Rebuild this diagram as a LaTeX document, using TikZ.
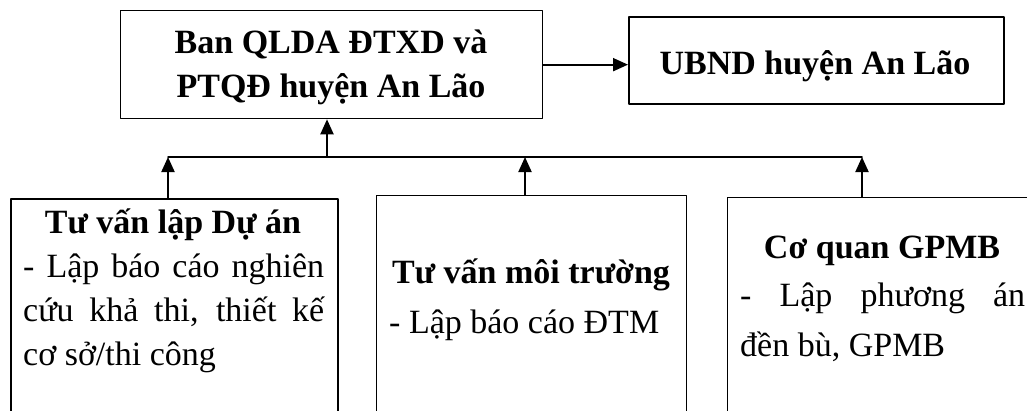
\documentclass[tikz,border=0pt]{standalone}
\usepackage{fontspec}
\setmainfont{Liberation Serif}
\usepackage{tikz}
\usetikzlibrary{arrows.meta}

\begin{document}
\begin{tikzpicture}[line cap=round,line join=round,>={Triangle[length=15pt,width=13pt]},x=1.0pt,y=-1.0pt,
        box/.style={draw,line width=1.3pt,inner sep=0pt,anchor=north west},
        boxthick/.style={box,line width=2pt},
        head/.style={font=\fontsize{34}{44}\selectfont\bfseries,inner sep=0pt,anchor=base},
        body/.style={font=\fontsize{34}{44}\selectfont,inner sep=0pt,anchor=base west,align=justify},
        link/.style={->,line width=2pt,line cap=butt}]
        \useasboundingbox (0,0) rectangle (1027,410);
        \clip (0,0) rectangle (1027,410);
        % khung tren
        \node[box,minimum width=422pt,minimum height=108pt] (ban) at (120,10) {};
        \node[boxthick,minimum width=375pt,minimum height=87pt] (ubnd) at (628,16) {};
        \node[head] (ban1) at (331,53) {Ban QLDA ĐTXD và};
        \node[head] (ban2) at (331,97) {PTQĐ huyện An Lão};
        \node[head] (ubndtext) at (815,74) {UBND huyện An Lão};
        % khung duoi
        \node[boxthick,minimum width=327pt,minimum height=300pt] (tuvan) at (10,198) {};
        \node[box,minimum width=310pt,minimum height=300pt] (moitruong) at (376,195) {};
        \node[box,minimum width=311pt,minimum height=300pt] (gpmb) at (727,197) {};
        \node[head] (tuvan1) at (173,233) {Tư vấn lập Dự án};
        \node[body,text width=301pt] (tuvan2) at (23,277) {- Lập báo cáo nghiên\linebreak cứu khả thi, thiết kế\linebreak cơ sở/thi công};
        \node[head] (moitruong1) at (531,283) {Tư vấn môi trường};
        \node[body] (moitruong2) at (389,333) {- Lập báo cáo ĐTM};
        \node[head] (gpmb1) at (882,258) {Cơ quan GPMB};
        \node[body,text width=285pt,font=\fontsize{34}{50}\selectfont] (gpmb2) at (740,306) {- Lập phương án\linebreak đền bù, GPMB};
        % duong noi
        \coordinate (bus1) at (168,157);
        \coordinate (bus2) at (327,157);
        \coordinate (bus3) at (525,157);
        \coordinate (bus4) at (862,157);
        \draw[line width=1.5pt] (bus1) -- (bus4);
        \draw[link] (bus1 |- tuvan.north) -- (bus1);
        \draw[link] (bus3 |- moitruong.north) -- (bus3);
        \draw[link] (bus4 |- gpmb.north) -- (bus4);
        \draw[link] (bus2) -- (bus2 |- ban.south);
        \draw[link] (ban.east) -- (ban.east -| ubnd.west);
      \end{tikzpicture}
\end{document}
